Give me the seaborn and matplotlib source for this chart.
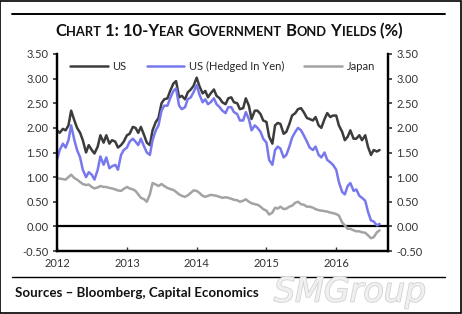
import pandas as pd
import numpy as np
import matplotlib
matplotlib.use('Agg')
import matplotlib.pyplot as plt
import matplotlib.dates as mdates
import matplotlib.patheffects as pe
from matplotlib.lines import Line2D
from matplotlib.patches import Rectangle
from matplotlib.offsetbox import TextArea, HPacker, AnchoredOffsetbox
import seaborn as sns

# 1. Data (semi-monthly readings, Jan 2012 - Aug 2016)
dates = pd.date_range('2012-01-01', '2016-08-15', freq='SMS')

us = [
    # 2012
    1.95, 1.90, 1.98, 1.95, 2.05, 2.35, 2.15, 2.00, 1.90, 1.75, 1.50, 1.65,
    1.55, 1.48, 1.62, 1.85, 1.70, 1.85, 1.68, 1.75, 1.72, 1.60, 1.65, 1.72,
    # 2013
    1.85, 1.88, 2.02, 2.00, 1.90, 2.02, 1.85, 1.70, 1.65, 1.95, 2.12, 2.20,
    2.50, 2.58, 2.60, 2.75, 2.90, 2.95, 2.62, 2.65, 2.58, 2.72, 2.78, 2.85,
    # 2014
    3.02, 2.85, 2.70, 2.75, 2.62, 2.70, 2.78, 2.65, 2.60, 2.52, 2.48, 2.60,
    2.62, 2.52, 2.50, 2.38, 2.40, 2.60, 2.45, 2.18, 2.35, 2.35, 2.28, 2.15,
    # 2015
    2.12, 1.82, 1.68, 2.05, 2.10, 2.08, 1.88, 1.92, 2.08, 2.25, 2.30, 2.38,
    2.40, 2.32, 2.20, 2.18, 2.15, 2.22, 2.05, 2.00, 2.18, 2.30, 2.22, 2.25,
    # 2016
    2.25, 2.05, 1.92, 1.75, 1.82, 1.95, 1.78, 1.78, 1.85, 1.75, 1.85, 1.62,
    1.45, 1.55, 1.52, 1.55,
]

us_hedged = [
    # 2012
    1.35, 1.55, 1.68, 1.60, 1.75, 2.05, 1.75, 1.55, 1.40, 1.15, 1.00, 1.10,
    1.05, 0.95, 1.15, 1.42, 1.25, 1.40, 1.18, 1.22, 1.25, 1.15, 1.45, 1.55,
    # 2013
    1.60, 1.72, 1.78, 1.72, 1.65, 1.78, 1.62, 1.50, 1.45, 1.75, 1.95, 2.05,
    2.35, 2.45, 2.45, 2.60, 2.75, 2.80, 2.45, 2.38, 2.42, 2.58, 2.62, 2.72,
    # 2014
    2.87, 2.68, 2.52, 2.58, 2.48, 2.52, 2.60, 2.48, 2.42, 2.35, 2.30, 2.42,
    2.42, 2.32, 2.28, 2.15, 2.15, 2.32, 2.18, 1.95, 2.05, 2.00, 1.92, 1.78,
    # 2015
    1.70, 1.35, 1.25, 1.55, 1.62, 1.58, 1.40, 1.45, 1.62, 1.80, 1.92, 2.00,
    1.95, 1.85, 1.72, 1.60, 1.55, 1.62, 1.45, 1.40, 1.50, 1.35, 1.30, 1.25,
    # 2016
    1.15, 0.90, 0.70, 0.65, 0.82, 0.88, 0.72, 0.75, 0.62, 0.58, 0.52, 0.30,
    0.12, 0.10, 0.02, 0.05,
]

japan = [
    # 2012
    0.98, 0.97, 0.96, 0.95, 1.00, 1.05, 0.98, 0.95, 0.90, 0.86, 0.84, 0.85,
    0.80, 0.77, 0.79, 0.82, 0.80, 0.80, 0.78, 0.77, 0.75, 0.73, 0.72, 0.76,
    # 2013
    0.80, 0.77, 0.75, 0.72, 0.65, 0.58, 0.55, 0.50, 0.65, 0.88, 0.85, 0.82,
    0.86, 0.82, 0.78, 0.76, 0.74, 0.70, 0.65, 0.62, 0.60, 0.63, 0.68, 0.73,
    # 2014
    0.72, 0.68, 0.62, 0.60, 0.62, 0.64, 0.63, 0.62, 0.60, 0.58, 0.59, 0.58,
    0.56, 0.54, 0.53, 0.50, 0.52, 0.55, 0.50, 0.47, 0.45, 0.44, 0.40, 0.35,
    # 2015
    0.32, 0.24, 0.28, 0.38, 0.36, 0.40, 0.35, 0.36, 0.40, 0.42, 0.48, 0.50,
    0.45, 0.44, 0.40, 0.40, 0.38, 0.35, 0.33, 0.32, 0.31, 0.30, 0.28, 0.27,
    # 2016
    0.25, 0.22, 0.08, 0.02, -0.05, -0.05, -0.08, -0.10, -0.10, -0.12, -0.13, -0.18,
    -0.24, -0.22, -0.12, -0.08,
]

series_names = ['US', 'US (Hedged In Yen)', 'Japan']
palette = {'US': '#3c3c3c', 'US (Hedged In Yen)': '#7878ee', 'Japan': '#a3a3a3'}

y_ticks = [-0.5, 0.0, 0.5, 1.0, 1.5, 2.0, 2.5, 3.0, 3.5]

df = pd.DataFrame({'date': dates, 'US': us, 'US (Hedged In Yen)': us_hedged, 'Japan': japan})
long_df = df.melt(id_vars='date', var_name='Series', value_name='Yield')

# 2. Style
sns.set_style('ticks')
plt.rcParams['font.family'] = ['Lato', 'DejaVu Sans']

W, H = 462, 314
fig = plt.figure(figsize=(W / 100, H / 100), dpi=100)
ax = fig.add_axes([57 / W, 1 - 251 / H, (388 - 57) / W, (251 - 54) / H])

sns.lineplot(data=long_df, x='date', y='Yield', hue='Series', hue_order=series_names,
             palette=palette, linewidth=1.8, ax=ax, legend=True)

ax.axhline(0, color='black', linewidth=1.6, zorder=1)

ax.set_xlim(pd.Timestamp('2012-01-01'), pd.Timestamp('2016-09-28'))
ax.set_ylim(-0.5, 3.5)
ax.set_yticks(y_ticks)
ax.set_yticklabels([f'{v:.2f}' for v in y_ticks])
ax.xaxis.set_major_locator(mdates.YearLocator(1))
ax.xaxis.set_major_formatter(mdates.DateFormatter('%Y'))
ax.set_xlabel('')
ax.set_ylabel('')
ax.tick_params(axis='y', direction='out', length=3, width=1.2, labelsize=8, pad=3, colors='#333333')
ax.tick_params(axis='x', direction='in', length=3, width=1.0, labelsize=8, pad=5, colors='#333333')

ax2 = ax.twinx()
ax2.set_ylim(-0.5, 3.5)
ax2.set_yticks(y_ticks)
ax2.set_yticklabels([f'{v:.2f}' for v in y_ticks])
ax2.tick_params(axis='y', direction='out', length=3, width=1.2, labelsize=8, pad=3, colors='#333333')

for a in (ax, ax2):
    a.spines['top'].set_visible(False)
    for s in ('left', 'right', 'bottom'):
        a.spines[s].set_linewidth(1.6)
        a.spines[s].set_color('black')

handles, labels = ax.get_legend_handles_labels()
ax.legend(handles, labels, ncol=3, frameon=False, fontsize=8, loc='upper left',
          bbox_to_anchor=(0.02, 1.0), handlelength=3.4, handletextpad=0.4,
          columnspacing=1.8, borderaxespad=0.2)

# 3. Title in small caps
big, small = 12, 9.3
runs = [('C', big), ('HART', small), (' 1: 10-Y', big), ('EAR', small), (' G', big),
        ('OVERNMENT', small), (' B', big), ('OND', small), (' Y', big), ('IELDS', small),
        (' (%)', big)]
boxes = [TextArea(t, textprops=dict(fontsize=s, fontweight='bold', color='#111111'))
         for t, s in runs]
pack = HPacker(children=boxes, align='baseline', pad=0, sep=0)
anch = AnchoredOffsetbox(loc='center', child=pack, pad=0, borderpad=0, frameon=False,
                         bbox_to_anchor=(229 / W, 1 - 31 / H), bbox_transform=fig.transFigure)
fig.add_artist(anch)

# 4. Frame, rules, source and watermark
fig.add_artist(Line2D([12 / W, 445 / W], [1 - 14 / H] * 2, color='black', linewidth=1.4))
fig.add_artist(Line2D([12 / W, 445 / W], [1 - 277 / H] * 2, color='black', linewidth=1.0))
fig.add_artist(Rectangle((0.001, 0.002), 0.997, 0.996, transform=fig.transFigure,
                         fill=False, edgecolor='black', linewidth=1.2))

fig.text(15 / W, 1 - 293 / H, 'Sources \u2013 Bloomberg, Capital Economics', fontsize=9.6,
         fontweight='bold', color='#111111', va='center', ha='left')
fig.text(350 / W, 1 - 292 / H, 'SMGroup', fontsize=24, style='italic', color='#f0f0f0',
         ha='center', va='center', family='DejaVu Sans',
         path_effects=[pe.withStroke(linewidth=1.2, foreground='#d2d2d2')])

fig.savefig('out.png', dpi=100)
